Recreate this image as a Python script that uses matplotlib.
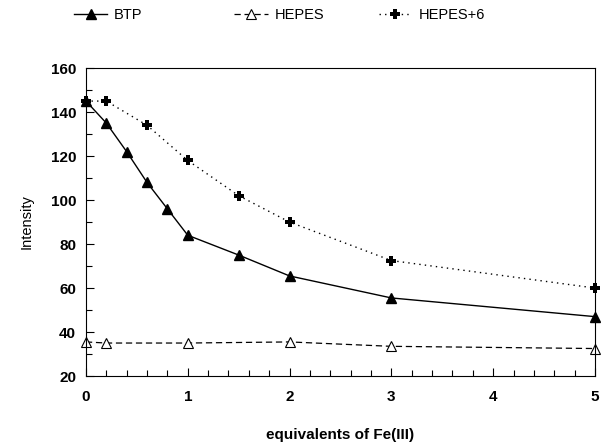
import matplotlib
matplotlib.use("Agg")
import matplotlib.pyplot as plt
from matplotlib.ticker import MultipleLocator

plt.rcParams['font.family'] = ['Liberation Sans', 'DejaVu Sans']

btp_x = [0, 0.2, 0.4, 0.6, 0.8, 1, 1.5, 2, 3, 5]
btp_y = [145, 135, 122, 108, 96, 84, 75, 65.5, 55.5, 47]

hepes_x = [0, 0.2, 1, 2, 3, 5]
hepes_y = [35.5, 35, 35, 35.5, 33.5, 32.5]

hepes6_x = [0, 0.2, 0.6, 1, 1.5, 2, 3, 5]
hepes6_y = [145, 145, 134, 118, 102, 90, 72.5, 60]

fig = plt.figure(figsize=(6.01, 4.45), dpi=100)
ax = fig.add_axes([0.143, 0.155, 0.847, 0.692])

l1, = ax.plot(btp_x, btp_y, color='black', lw=1.0, ls='-', marker='^', ms=7,
              mfc='black', mec='black', label='BTP', clip_on=False)
l2, = ax.plot(hepes_x, hepes_y, color='black', lw=0.9, ls=(0, (5, 3)), marker='^', ms=7,
              mfc='white', mec='black', mew=0.8, label='HEPES', clip_on=False)
l3, = ax.plot(hepes6_x, hepes6_y, color='black', lw=1.0, ls=(0, (1, 3)), marker='P', ms=7,
              mfc='black', mec='black', mew=0, label='HEPES+6', clip_on=False)

ax.set_xlim(0, 5)
ax.set_ylim(20, 160)
ax.xaxis.set_major_locator(MultipleLocator(1))
ax.xaxis.set_minor_locator(MultipleLocator(0.2))
ax.yaxis.set_major_locator(MultipleLocator(20))
ax.yaxis.set_minor_locator(MultipleLocator(10))
ax.tick_params(which='both', direction='in', top=False, right=False, labelsize=11)
ax.tick_params(which='major', length=6, width=0.8)
ax.tick_params(which='minor', length=4, width=0.8)
ax.tick_params(axis='x', pad=10)
ax.tick_params(axis='y', pad=7)
for lab in ax.get_xticklabels() + ax.get_yticklabels():
    lab.set_fontweight('bold')

ax.set_xlabel('equivalents of Fe(III)', fontsize=11, fontweight='bold', labelpad=17)
ax.set_ylabel('Intensity', fontsize=10.5, labelpad=12)

# one legend entry per slot along the top of the figure
for handle, xpos in [(l1, 0.123), (l2, 0.39), (l3, 0.63)]:
    fig.legend(handles=[handle], loc='center left', bbox_to_anchor=(xpos, 0.966),
               frameon=False, fontsize=10.5, handlelength=2.3, handletextpad=0.45,
               borderpad=0, borderaxespad=0)

fig.savefig('out.png', dpi=100)
